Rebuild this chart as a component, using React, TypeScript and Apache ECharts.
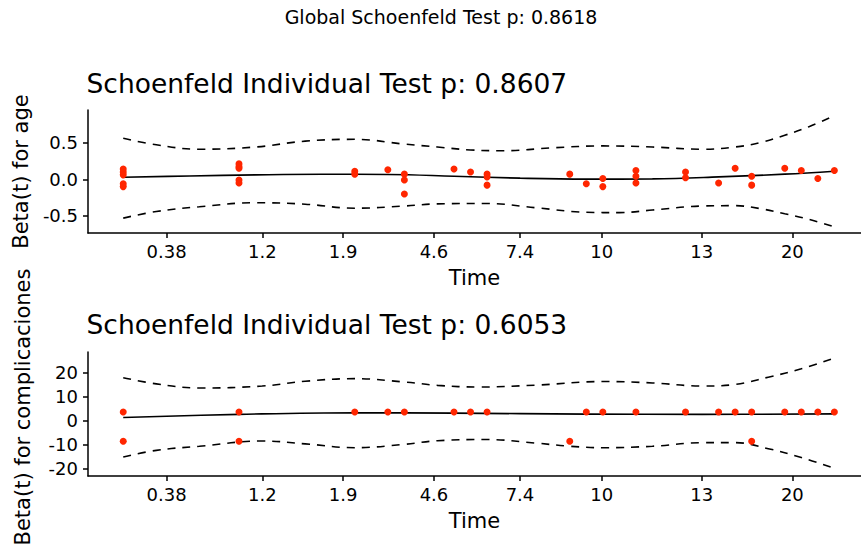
import React, { useEffect, useRef } from 'react';
import * as echarts from 'echarts';

const FONT = 'DejaVu Sans';

// Transformed time axis (rank scale) — tick positions and their time labels
const timeTickPos = [2.62, 8.41, 13.3, 18.79, 23.99, 28.93, 34.98, 40.46];
const timeTickLabels = ['0.38', '1.2', '1.9', '4.6', '7.4', '10', '13', '20'];

// Panel 1: Beta(t) for age — residual points
const ageX = [0, 0, 0, 0, 0, 7, 7, 7, 7, 7, 14, 14, 16, 17, 17, 17, 20, 21, 22, 22, 22, 27, 28, 29, 29, 31, 31, 31, 34, 34, 36, 37, 38, 38, 40, 41, 42, 43];
const ageY = [0.14, 0.1, 0.06, -0.06, -0.1, 0.21, 0.17, 0.15, -0.01, -0.05, 0.11, 0.07, 0.13, 0.07, -0.01, -0.2, 0.14, 0.1, 0.07, 0.03, -0.08, 0.07, -0.06, 0.01, -0.1, 0.12, 0.04, -0.05, 0.1, 0.02, -0.05, 0.15, 0.04, -0.08, 0.15, 0.12, 0.01, 0.12];

const ageFitX = [0, 4, 8, 12, 16, 20, 24, 28, 32, 36, 40, 43];
const ageFitY = [0.027, 0.045, 0.06, 0.068, 0.065, 0.042, 0.015, 0.002, 0.006, 0.032, 0.07, 0.11];

const ageUpperX = [0, 2, 4.6, 8, 11, 14, 17, 19, 21, 23, 26, 29, 32, 35, 37, 38.5, 40, 41.5, 43];
const ageUpperY = [0.56, 0.47, 0.41, 0.44, 0.52, 0.545, 0.48, 0.44, 0.4, 0.39, 0.43, 0.455, 0.44, 0.41, 0.44, 0.5, 0.6, 0.72, 0.87];
const ageLowerX = [0, 2, 4.6, 8, 11, 14, 17, 19, 22, 25, 28, 30, 32, 35, 37, 38.5, 40, 41.5, 43];
const ageLowerY = [-0.53, -0.44, -0.375, -0.32, -0.34, -0.395, -0.365, -0.335, -0.33, -0.39, -0.45, -0.455, -0.42, -0.365, -0.36, -0.4, -0.47, -0.55, -0.65];

// Panel 2: Beta(t) for complicaciones — residual points
const compX = [0, 0, 7, 7, 14, 16, 17, 20, 21, 22, 27, 28, 29, 31, 34, 36, 37, 38, 38, 40, 41, 42, 43];
const compY = [3.5, -8.7, 3.5, -8.7, 3.5, 3.5, 3.5, 3.5, 3.5, 3.5, -8.7, 3.5, 3.5, 3.5, 3.5, 3.5, 3.5, 3.5, -8.7, 3.5, 3.5, 3.5, 3.5];

const compFitX = [0, 7, 14, 20, 28, 35, 43];
const compFitY = [1.2, 2.5, 3.2, 3.0, 2.6, 2.5, 2.7];

const compUpperX = [0, 2, 4.6, 8.4, 11, 14, 17, 19, 21.5, 25, 29, 32, 35, 37, 39, 41, 43];
const compUpperY = [17.8, 15.2, 13.5, 14.3, 16.3, 17.4, 16, 14.6, 13.9, 14.7, 16.2, 15.6, 14.3, 15, 18, 21.5, 26];
const compLowerX = [0, 2, 4.6, 8.4, 11, 14, 17, 19, 22, 25, 27, 29, 32, 35, 37, 39, 41, 43];
const compLowerY = [-15.3, -12.5, -10.8, -8.6, -9.8, -11.4, -10, -8.5, -8, -9.5, -10.8, -11.4, -10.8, -9.3, -9.3, -11.8, -15.5, -20];

const ageTicks = [-0.5, 0, 0.5];
const compTicks = [-20, -10, 0, 10, 20];

const zip = (xs: number[], ys: number[]) => xs.map((x, i) => [x, ys[i]]);

const X_MIN = -2.13;
const X_MAX = 44.61;

const labelFor = (v: number) => {
  let best = 0;
  let bd = Infinity;
  timeTickPos.forEach((p, i) => {
    const d = Math.abs(p - v);
    if (d < bd) { bd = d; best = i; }
  });
  return timeTickLabels[best];
};

const xAxisFor = (gridIndex: number) => ({
  type: 'value',
  gridIndex,
  min: X_MIN,
  max: X_MAX,
  axisLine: { show: true, onZero: false, lineStyle: { color: '#000', width: 1.5 } },
  axisTick: { show: true, customValues: timeTickPos, length: 5, lineStyle: { color: '#000', width: 1.5 } },
  axisLabel: { customValues: timeTickPos, formatter: (v: number) => labelFor(v), fontSize: 18, fontFamily: FONT, color: '#000', margin: 9 },
  splitLine: { show: false },
  name: 'Time',
  nameLocation: 'middle',
  nameGap: 34,
  nameTextStyle: { fontSize: 21, fontFamily: FONT, color: '#000' },
});

const yAxisFor = (gridIndex: number, min: number, max: number, ticks: number[], name: string, dec: number, shift: number) => ({
  type: 'value',
  gridIndex,
  min,
  max,
  axisLine: { show: true, onZero: false, lineStyle: { color: '#000', width: 1.5 } },
  axisTick: { show: true, customValues: ticks, length: 5, lineStyle: { color: '#000', width: 1.5 } },
  axisLabel: { customValues: ticks, formatter: (v: number) => v.toFixed(dec), fontSize: 18, fontFamily: FONT, color: '#000', margin: 10 },
  splitLine: { show: false },
  name,
  nameLocation: 'middle',
  nameGap: 55,
  nameTextStyle: { fontSize: 21, fontFamily: FONT, color: '#000', padding: [0, 0, 0, shift] },
});

const lineSeries = (idx: number, data: number[][], dashed: boolean) => ({
  type: 'line',
  xAxisIndex: idx,
  yAxisIndex: idx,
  data,
  smooth: 0.4,
  showSymbol: false,
  symbol: 'none',
  lineStyle: { color: '#000', width: 1.6, type: dashed ? [8, 7] : 'solid' },
  z: 2,
});

const scatterSeries = (idx: number, data: number[][]) => ({
  type: 'scatter',
  xAxisIndex: idx,
  yAxisIndex: idx,
  data,
  symbolSize: 7,
  itemStyle: { color: '#FF2600', opacity: 1 },
  z: 3,
});

const option = {
  animation: false,
  backgroundColor: '#fff',
  title: [
    { text: 'Global Schoenfeld Test p: 0.8618', left: 441, top: 7, textAlign: 'center', padding: 0, textStyle: { fontSize: 19, fontWeight: 'normal', fontFamily: FONT, color: '#000' } },
    { text: 'Schoenfeld Individual Test p: 0.8607', left: 86.5, top: 70, padding: 0, textStyle: { fontSize: 26.5, fontWeight: 'normal', fontFamily: FONT, color: '#000' } },
    { text: 'Schoenfeld Individual Test p: 0.6053', left: 86.5, top: 311, padding: 0, textStyle: { fontSize: 26.5, fontWeight: 'normal', fontFamily: FONT, color: '#000' } },
  ],
  grid: [
    { left: 88, right: 0, top: 110, height: 123, outerBoundsMode: 'none', containLabel: false },
    { left: 88, right: 0, top: 352, height: 124, outerBoundsMode: 'none', containLabel: false },
  ],
  xAxis: [xAxisFor(0), xAxisFor(1)],
  yAxis: [
    yAxisFor(0, -0.733, 0.945, ageTicks, 'Beta(t) for age', 1, 0),
    yAxisFor(1, -23.2, 28.5, compTicks, 'Beta(t) for complicaciones', 0, 14),
  ],
  series: [
    scatterSeries(0, zip(ageX, ageY)),
    lineSeries(0, zip(ageFitX, ageFitY), false),
    lineSeries(0, zip(ageUpperX, ageUpperY), true),
    lineSeries(0, zip(ageLowerX, ageLowerY), true),
    scatterSeries(1, zip(compX, compY)),
    lineSeries(1, zip(compFitX, compFitY), false),
    lineSeries(1, zip(compUpperX, compUpperY), true),
    lineSeries(1, zip(compLowerX, compLowerY), true),
  ],
};

export default function App() {
  const ref = useRef<HTMLDivElement>(null);
  useEffect(() => {
    document.body.style.margin = '0';
    const chart = echarts.init(ref.current as HTMLDivElement, null, { renderer: 'svg' });
    chart.setOption(option as any);
    return () => chart.dispose();
  }, []);
  return <div ref={ref} style={{ width: 861, height: 545 }} />;
}
